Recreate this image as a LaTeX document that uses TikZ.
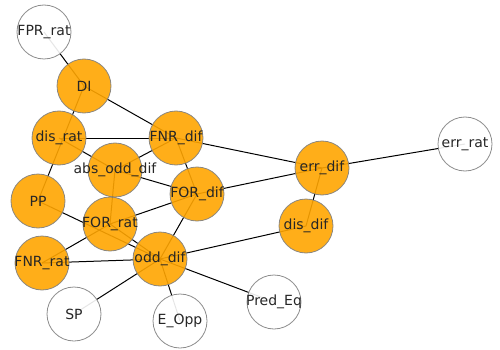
\documentclass[tikz,border=0pt]{standalone}
\usepackage{fontspec}
\setmainfont{DejaVu Sans}
\usepackage{xcolor}
\usepackage{tikz}
\usetikzlibrary{backgrounds}

\definecolor{nxorange}{RGB}{255,165,0}
\definecolor{nxgray}{RGB}{128,128,128}

\tikzset{
	metric/.style={circle, draw=nxgray, line width=0.8pt, fill=nxorange, fill opacity=0.9, draw opacity=0.9, minimum size=54pt, inner sep=0pt},
	plain/.style={metric, fill=white},
	lbl/.style={font=\fontsize{14}{16}\selectfont, text=black!85, inner sep=0pt},
	link/.style={line width=1pt, black}
}

\begin{document}
\begin{tikzpicture}[x=1pt, y=-1pt]
			\useasboundingbox (0,0) rectangle (500,350);
			\node[plain] (fprrat) at (44,32) {};
			\node[metric] (di) at (84,86) {};
			\node[metric] (disrat) at (59,138) {};
			\node[metric] (fnrdif) at (176,138) {};
			\node[metric] (absodd) at (115,170) {};
			\node[metric] (pp) at (38,201) {};
			\node[metric] (fordif) at (197,194) {};
			\node[metric] (forrat) at (110,224) {};
			\node[metric] (fnrrat) at (42,263) {};
			\node[metric] (odddif) at (160,259) {};
			\node[plain] (sp) at (74,314) {};
			\node[plain] (eopp) at (180,321) {};
			\node[metric] (errdif) at (322,168) {};
			\node[plain] (errrat) at (465,144) {};
			\node[metric] (disdif) at (306,226) {};
			\node[plain] (predeq) at (274,302) {};
			\begin{pgfonlayer}{background}
				\foreach \a/\b in {fprrat/di, di/pp, di/fnrdif, disrat/fnrdif, disrat/absodd,
					absodd/fnrdif, absodd/fordif, absodd/forrat, fnrdif/fordif, fnrdif/errdif,
					fordif/errdif, fordif/forrat, fordif/odddif, pp/odddif, fnrrat/forrat,
					forrat/odddif, fnrrat/odddif, odddif/sp, odddif/eopp, odddif/predeq,
					odddif/disdif, errdif/disdif, errdif/errrat}
					\draw[link] (\a.center) -- (\b.center);
			\end{pgfonlayer}
			\foreach \n/\t in {fprrat/FPR\_rat, di/DI, disrat/dis\_rat, fnrdif/FNR\_dif,
				absodd/abs\_odd\_dif, pp/PP, fordif/FOR\_dif, forrat/FOR\_rat, fnrrat/FNR\_rat,
				odddif/odd\_dif, sp/SP, eopp/E\_Opp, errdif/err\_dif, errrat/err\_rat,
				disdif/dis\_dif, predeq/Pred\_Eq}
				\node[lbl] (\n-l) at (\n.center) {\t};
		\end{tikzpicture}
\end{document}
